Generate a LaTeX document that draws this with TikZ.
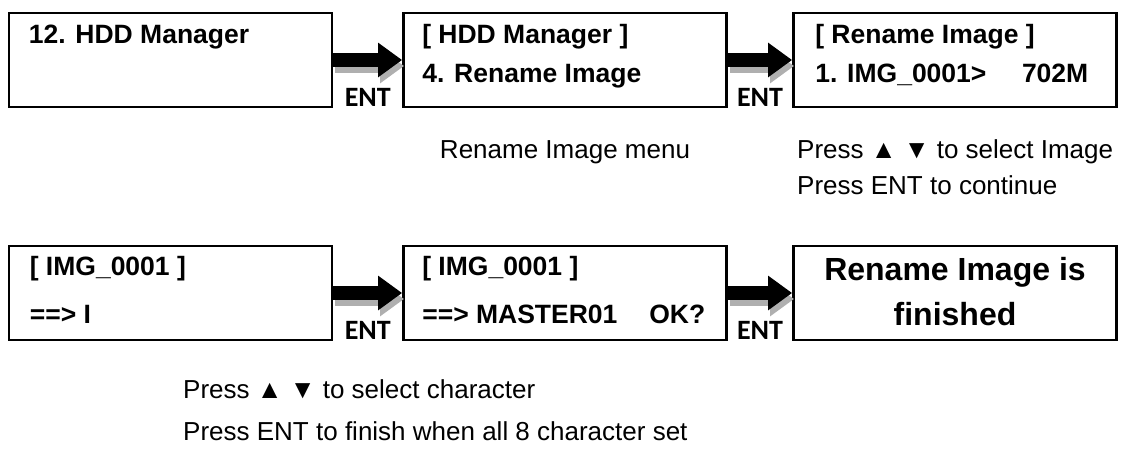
\documentclass[tikz,border=0pt]{standalone}
\usepackage{fontspec}
\setmainfont{Liberation Sans}
\newfontfamily\entfont{Carlito}
\usetikzlibrary{arrows.meta, positioning, calc}
\tikzset{every node/.append style={align=center}}
\definecolor{shadowgray}{RGB}{175,175,175}

\begin{document}
\begin{tikzpicture}[x=1pt,y=-1pt,
  lcd/.style={draw, line width=2.8pt, minimum width=323pt, minimum height=94pt, inner sep=0pt},
  lcdtext/.style={font=\fontsize{26.5}{30}\selectfont\bfseries, anchor=base west, inner sep=0pt},
  caption/.style={font=\fontsize{26}{30}\selectfont, anchor=base west, inner sep=0pt},
  entlabel/.style={font=\entfont\fontsize{28}{30}\selectfont\bfseries, anchor=base, inner sep=0pt},
  blockarrow/.style={line width=14pt, -{Triangle[length=24pt,width=33pt]}}]
\useasboundingbox (0,0) rectangle (1123,450);

% ── LCD screens ──────────────────────────────────────────────────────────────
\foreach \name/\x/\y in {b1/170.5/60, b2/565/60, b3/955/60,
                         b4/170.5/293, b5/565/293, b6/955/293} {
  \node[lcd] (\name) at (\x,\y) {};
}

% ── Screen texts ─────────────────────────────────────────────────────────────
\node[lcdtext] (t1) at ([shift={(21pt,-32pt)}]b1.north west) {12. HDD Manager};
\node[lcdtext] (t2a) at ([shift={(20pt,-32pt)}]b2.north west) {[ HDD Manager ]};
\node[lcdtext] (t2b) at ([shift={(20pt,-71pt)}]b2.north west) {4. Rename Image};
\node[lcdtext] (t3a) at ([shift={(23pt,-32pt)}]b3.north west) {[ Rename Image ]};
\node[lcdtext] (t3b) at ([shift={(23pt,-71pt)}]b3.north west)
      {\makebox[273pt][l]{1. IMG\_0001>\hfill 702M}};
\node[lcdtext] (t4a) at ([shift={(22pt,-31pt)}]b4.north west) {[ IMG\_0001 ]};
\node[lcdtext] (t4b) at ([shift={(22pt,-79pt)}]b4.north west) {==> I};
\node[lcdtext] (t5a) at ([shift={(20pt,-31pt)}]b5.north west) {[ IMG\_0001 ]};
\node[lcdtext] (t5b) at ([shift={(20pt,-79pt)}]b5.north west)
      {\makebox[283pt][l]{==> MASTER01\hfill OK?}};
\node[font=\fontsize{32}{45}\selectfont\bfseries] (t6) at ([yshift=1pt]b6) {Rename Image is\\finished};

% ── ENT arrows between screens ───────────────────────────────────────────────
\foreach \a/\b/\n in {b1/b2/e1, b2/b3/e2, b4/b5/e3, b5/b6/e4} {
  \draw[blockarrow, shadowgray] ([shift={(2pt,-6pt)}]\a.east) -- ([shift={(2pt,-6pt)}]\b.west);
  \draw[blockarrow] (\a.east) -- (\b.west);
  \node[entlabel] (\n) at ($(\a.south east)!0.5!(\b.south west)+(0pt,2pt)$) {ENT};
}

% ── Hints ────────────────────────────────────────────────────────────────────
\node[caption, anchor=base] (c1) at (b2.center |- 0,158) {Rename Image menu};
\node[caption] (c2) at (797,158) {Press ▲ ▼ to select Image};
\node[caption] (c3) at (797,194) {Press ENT to continue};
\node[caption] (c4) at (183,398) {Press ▲ ▼ to select character};
\node[caption] (c5) at (183,440) {Press ENT to finish when all 8 character set};

\end{tikzpicture}
\end{document}
